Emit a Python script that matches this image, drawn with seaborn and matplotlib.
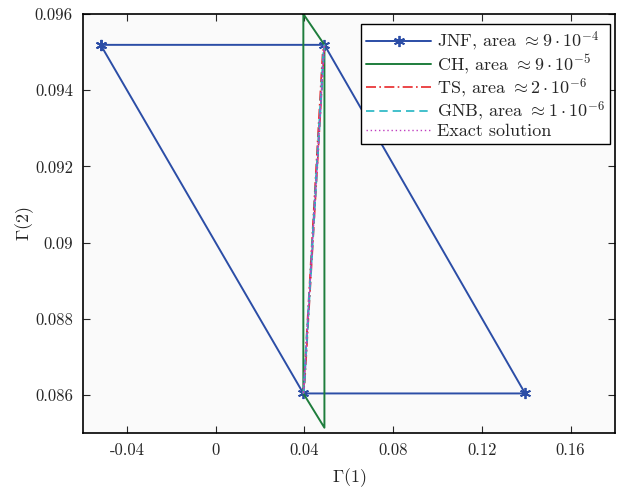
import matplotlib
matplotlib.use("Agg")
import matplotlib.pyplot as plt
import seaborn as sns

# polygon vertices (closed: first point repeated)
jnf_x = [-0.0519, 0.0490, 0.1395, 0.0395, -0.0519]
jnf_y = [0.09519, 0.09519, 0.08604, 0.08604, 0.09519]

ch_x = [0.0395, 0.0490, 0.0490, 0.0395, 0.0395]
ch_y = [0.09600, 0.09519, 0.08514, 0.08604, 0.09600]

ts_x = [0.0395, 0.0482, 0.0490, 0.0401, 0.0395]
ts_y = [0.08604, 0.09500, 0.09519, 0.08630, 0.08604]

gnb_x = [0.0395, 0.0486, 0.0490, 0.0399, 0.0395]
gnb_y = [0.08604, 0.09510, 0.09519, 0.08620, 0.08604]

exact_x = [0.0395, 0.0488, 0.0490, 0.0397, 0.0395]
exact_y = [0.08604, 0.09512, 0.09519, 0.08612, 0.08604]

labels = [r"JNF, area $\approx 9\cdot10^{-4}$",
          r"CH, area $\approx 9\cdot10^{-5}$",
          r"TS, area $\approx 2\cdot10^{-6}$",
          r"GNB, area $\approx 1\cdot10^{-6}$",
          "Exact solution"]

sns.set_style("ticks")
plt.rcParams["font.family"] = "serif"
plt.rcParams["font.serif"] = ["cmr10"]
plt.rcParams["mathtext.fontset"] = "cm"
plt.rcParams["axes.unicode_minus"] = False
plt.rcParams["axes.formatter.use_mathtext"] = True

fig = plt.figure(figsize=(6.24, 4.91), dpi=100)
ax = fig.add_axes([0.1325, 0.118, 0.853, 0.8535])
ax.set_facecolor("#fafafa")

sns.lineplot(x=jnf_x, y=jnf_y, sort=False, estimator=None, ax=ax, color="#2b4da6",
             lw=1.4, marker=(6, 2, 0), markersize=8, markeredgewidth=1.3,
             markeredgecolor="#2b4da6", label=labels[0])
sns.lineplot(x=ch_x, y=ch_y, sort=False, estimator=None, ax=ax, color="#1e7d3c",
             lw=1.4, label=labels[1])
sns.lineplot(x=ts_x, y=ts_y, sort=False, estimator=None, ax=ax, color="#e8282a",
             lw=1.2, label=labels[2])
ax.lines[-1].set_dashes([6, 2, 1, 2])
sns.lineplot(x=gnb_x, y=gnb_y, sort=False, estimator=None, ax=ax, color="#22b5c2",
             lw=1.2, label=labels[3])
ax.lines[-1].set_dashes([5, 3])
sns.lineplot(x=exact_x, y=exact_y, sort=False, estimator=None, ax=ax, color="#c040c0",
             lw=1.0, label=labels[4])
ax.lines[-1].set_dashes([1, 2])

ax.set_xlim(-0.06, 0.18)
ax.set_ylim(0.085, 0.096)
ax.set_xticks([-0.04, 0, 0.04, 0.08, 0.12, 0.16])
ax.set_xticklabels(["-0.04", "0", "0.04", "0.08", "0.12", "0.16"])
ax.set_yticks([0.086, 0.088, 0.09, 0.092, 0.094, 0.096])
ax.set_yticklabels(["0.086", "0.088", "0.09", "0.092", "0.094", "0.096"])
ax.tick_params(direction="in", top=True, right=True, labelsize=12, length=5, width=0.8,
               pad=7)
for s in ax.spines.values():
    s.set_linewidth(1.2)
    s.set_color("black")

ax.set_xlabel(r"$\Gamma(1)$", fontsize=13, labelpad=6)
ax.set_ylabel(r"$\Gamma(2)$", fontsize=13, labelpad=-1)

leg = ax.legend(loc="upper right", bbox_to_anchor=(0.9906, 0.976), fontsize=13,
                frameon=True, fancybox=False, edgecolor="black", framealpha=1,
                borderpad=0.3, labelspacing=0.0, handlelength=3.6,
                handletextpad=0.3, borderaxespad=0)
leg.get_frame().set_linewidth(1.0)

fig.savefig("out.png", dpi=100)
